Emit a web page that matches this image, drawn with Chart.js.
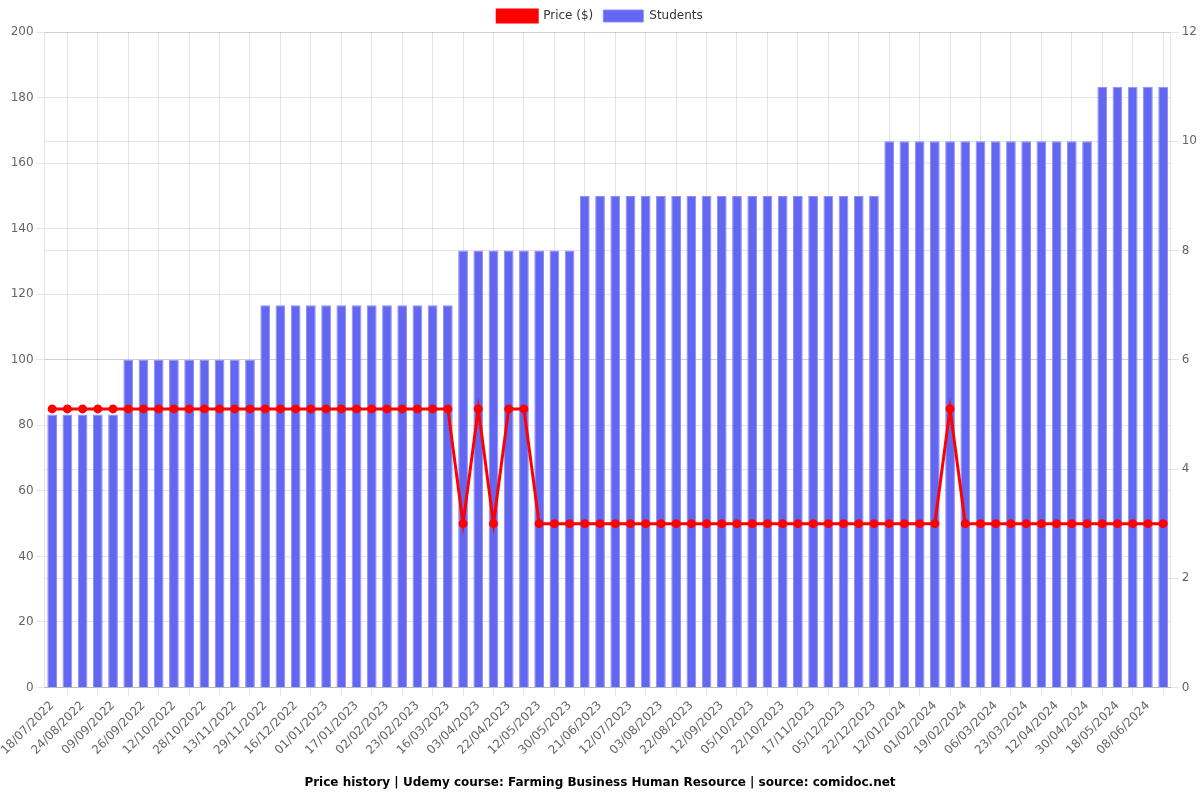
<!DOCTYPE html>
<html>
<head>
<meta charset="utf-8">
<script src="https://cdn.jsdelivr.net/npm/chart.js@4/dist/chart.umd.min.js"></script>
<style>
  html, body { margin: 0; padding: 0; background: #fff; }
  #wrap { width: 1200px; height: 800px; }
</style>
</head>
<body>
<div id="wrap"><canvas id="chart"></canvas></div>
<script>
// dates: every other one is shown on the axis, the ones in between are estimated
const dates = [
  '18/07/2022', '16/08/2022', '24/08/2022', '01/09/2022', '09/09/2022', '17/09/2022',
  '26/09/2022', '04/10/2022', '12/10/2022', '20/10/2022', '28/10/2022', '05/11/2022',
  '13/11/2022', '21/11/2022', '29/11/2022', '07/12/2022', '16/12/2022', '24/12/2022',
  '01/01/2023', '09/01/2023', '17/01/2023', '25/01/2023', '02/02/2023', '12/02/2023',
  '23/02/2023', '06/03/2023', '16/03/2023', '25/03/2023', '03/04/2023', '12/04/2023',
  '22/04/2023', '02/05/2023', '12/05/2023', '21/05/2023', '30/05/2023', '10/06/2023',
  '21/06/2023', '01/07/2023', '12/07/2023', '23/07/2023', '03/08/2023', '12/08/2023',
  '22/08/2023', '01/09/2023', '12/09/2023', '24/09/2023', '05/10/2023', '13/10/2023',
  '22/10/2023', '04/11/2023', '17/11/2023', '26/11/2023', '05/12/2023', '13/12/2023',
  '22/12/2023', '02/01/2024', '12/01/2024', '22/01/2024', '01/02/2024', '10/02/2024',
  '19/02/2024', '27/02/2024', '06/03/2024', '14/03/2024', '23/03/2024', '02/04/2024',
  '12/04/2024', '21/04/2024', '30/04/2024', '09/05/2024', '18/05/2024', '28/05/2024',
  '08/06/2024', '16/06/2024'
];

const price = [
  85, 85, 85, 85, 85, 85, 85, 85, 85, 85, 85, 85, 85, 85, 85, 85, 85, 85, 85, 85,
  85, 85, 85, 85, 85, 85, 85, 50, 85, 50, 85, 85, 50, 50, 50, 50, 50, 50, 50, 50,
  50, 50, 50, 50, 50, 50, 50, 50, 50, 50, 50, 50, 50, 50, 50, 50, 50, 50, 50, 85,
  50, 50, 50, 50, 50, 50, 50, 50, 50, 50, 50, 50, 50, 50
];

const students = [
  5, 5, 5, 5, 5,
  6, 6, 6, 6, 6, 6, 6, 6, 6,
  7, 7, 7, 7, 7, 7, 7, 7, 7, 7, 7, 7, 7,
  8, 8, 8, 8, 8, 8, 8, 8,
  9, 9, 9, 9, 9, 9, 9, 9, 9, 9, 9, 9, 9, 9, 9, 9, 9, 9, 9, 9,
  10, 10, 10, 10, 10, 10, 10, 10, 10, 10, 10, 10, 10, 10,
  11, 11, 11, 11, 11
];

const titleText = 'Price history | Udemy course: Farming Business Human Resource | source: comidoc.net';

Chart.defaults.font.family = 'DejaVu Sans';
Chart.defaults.font.size = 12;
Chart.defaults.color = '#666';

new Chart(document.getElementById('chart').getContext('2d'), {
  type: 'bar',
  data: {
    labels: dates,
    datasets: [{
      type: 'line',
      label: 'Price ($)',
      data: price,
      yAxisID: 'y',
      borderColor: '#ff0000',
      backgroundColor: '#ff0000',
      borderWidth: 3,
      pointRadius: 3,
      pointBackgroundColor: '#ff0000',
      tension: 0
    }, {
      type: 'bar',
      label: 'Students',
      data: students,
      yAxisID: 'y1',
      backgroundColor: '#6366f1',
      borderColor: 'rgba(140, 143, 245, 1)',
      borderWidth: 1,
      barPercentage: 0.8,
      categoryPercentage: 0.8
    }]
  },
  options: {
    responsive: true,
    maintainAspectRatio: false,
    animation: false,
    plugins: {
      legend: {
        position: 'top',
        labels: { boxWidth: 40, boxHeight: 12, color: '#333' }
      },
      title: {
        display: true,
        position: 'bottom',
        text: titleText,
        color: '#000',
        font: { size: 12, weight: 'bold' },
        padding: { top: 15, bottom: 10 }
      }
    },
    scales: {
      x: {
        ticks: { maxRotation: 45, minRotation: 45 }
      },
      y: {
        position: 'left',
        min: 0,
        max: 200,
        ticks: { stepSize: 20 }
      },
      y1: {
        position: 'right',
        min: 0,
        max: 12,
        ticks: { stepSize: 2 }
      }
    }
  }
});
</script>
</body>
</html>
